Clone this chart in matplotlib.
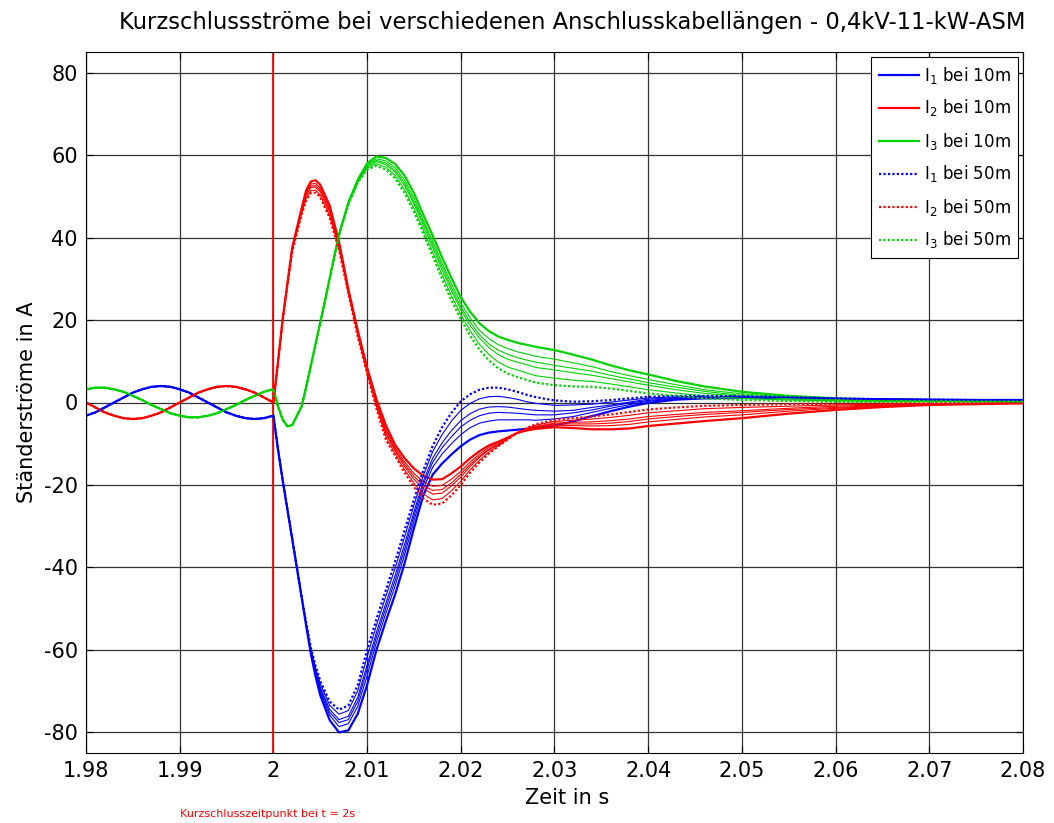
import matplotlib
matplotlib.use("Agg")
import matplotlib.pyplot as plt

# ---------------- data ----------------
t_pre = [1.980, 1.981, 1.982, 1.983, 1.984, 1.985, 1.986, 1.987, 1.988, 1.989, 1.990,
         1.991, 1.992, 1.993, 1.994, 1.995, 1.996, 1.997, 1.998, 1.999, 2.000]
I1_pre = [-3.2, -2.4, -1.2, 0.0, 1.2, 2.4, 3.2, 3.8, 4.0, 3.8, 3.2,
          2.4, 1.2, 0.0, -1.2, -2.4, -3.2, -3.8, -4.0, -3.8, -3.2]
I2_pre = [0.0, -1.2, -2.4, -3.2, -3.8, -4.0, -3.8, -3.2, -2.4, -1.2, 0.0,
          1.2, 2.4, 3.2, 3.8, 4.0, 3.8, 3.2, 2.4, 1.2, 0.0]
I3_pre = [3.2, 3.6, 3.6, 3.2, 2.6, 1.6, 0.6, -0.6, -1.6, -2.6, -3.2,
          -3.6, -3.6, -3.2, -2.6, -1.6, -0.6, 0.6, 1.6, 2.6, 3.2]

t_post = [2.000, 2.0005, 2.001, 2.0015, 2.002, 2.003, 2.0035, 2.004, 2.0045, 2.005, 2.006,
          2.007, 2.008, 2.009, 2.010, 2.011, 2.012, 2.013, 2.014, 2.015, 2.016, 2.017,
          2.018, 2.019, 2.020, 2.021, 2.022, 2.023, 2.024, 2.025, 2.026, 2.027, 2.028,
          2.030, 2.032, 2.034, 2.036, 2.038, 2.040, 2.043, 2.046, 2.050, 2.055, 2.060,
          2.065, 2.070, 2.075, 2.080]

# cable lengths: 10 m (thick), four intermediate lengths (thin), 50 m (dotted)
I1_10m = [-3.2, -11.5, -19.0, -26.0, -33.0, -47.0, -54.2, -61.0, -66.4, -71.0, -77.0,
          -80.0, -79.5, -75.5, -68.5, -60.0, -53.0, -46.5, -39.0, -30.5, -22.5, -17.5,
          -14.8, -12.6, -10.6, -9.0, -7.9, -7.3, -7.0, -6.8, -6.6, -6.4, -6.2,
          -5.6, -4.6, -3.3, -2.1, -1.0, -0.1, 0.7, 1.0, 1.1, 1.0, 0.9,
          0.8, 0.7, 0.6, 0.6]
I1_mid1 = [-3.2, -11.5, -19.0, -26.0, -33.0, -47.0, -54.0, -60.6, -65.9, -70.1, -75.8,
           -78.6, -77.9, -73.7, -66.3, -58.1, -51.1, -44.4, -36.9, -28.7, -20.9, -15.7,
           -12.5, -10.0, -7.8, -6.1, -5.0, -4.5, -4.2, -4.2, -4.2, -4.2, -4.3,
           -4.0, -3.4, -2.4, -1.4, -0.5, 0.3, 0.9, 1.2, 1.2, 1.1, 0.9,
           0.8, 0.7, 0.6, 0.6]
I1_mid2 = [-3.2, -11.5, -19.0, -26.0, -33.0, -47.0, -53.9, -60.4, -65.4, -69.5, -75.1,
           -77.6, -76.9, -72.5, -64.8, -56.8, -49.8, -43.1, -35.6, -27.5, -19.9, -14.5,
           -11.0, -8.3, -5.9, -4.3, -3.2, -2.6, -2.4, -2.5, -2.6, -2.8, -3.0,
           -3.0, -2.5, -1.8, -0.9, -0.1, 0.5, 1.1, 1.3, 1.3, 1.1, 0.9,
           0.8, 0.7, 0.6, 0.6]
I1_mid3 = [-3.2, -11.5, -19.0, -26.0, -33.0, -47.0, -53.8, -60.1, -65.0, -69.0, -74.4,
           -76.9, -76.1, -71.5, -63.7, -55.7, -48.7, -41.9, -34.4, -26.5, -19.1, -13.5,
           -9.8, -6.8, -4.4, -2.7, -1.6, -1.1, -1.0, -1.1, -1.4, -1.7, -1.9,
           -2.1, -1.9, -1.2, -0.6, 0.1, 0.8, 1.2, 1.3, 1.3, 1.2, 1.0,
           0.8, 0.7, 0.6, 0.6]
I1_mid4 = [-3.2, -11.5, -19.0, -26.0, -33.0, -47.0, -53.6, -59.8, -64.4, -68.2, -73.4,
           -75.6, -74.7, -69.9, -61.7, -54.0, -47.0, -40.1, -32.6, -24.9, -17.7, -11.9,
           -7.8, -4.5, -1.9, -0.2, 0.9, 1.4, 1.5, 1.2, 0.8, 0.2, -0.2,
           -0.7, -0.6, -0.4, 0.1, 0.6, 1.1, 1.4, 1.5, 1.4, 1.2, 1.0,
           0.8, 0.7, 0.6, 0.6]
I1_50m = [-3.2, -11.5, -19.0, -26.0, -33.0, -47.0, -53.4, -59.5, -63.9, -67.5, -72.5,
          -74.5, -73.5, -68.5, -60.0, -52.5, -45.5, -38.5, -31.0, -23.5, -16.5, -10.5,
          -6.0, -2.5, 0.3, 2.0, 3.1, 3.6, 3.6, 3.2, 2.6, 1.9, 1.3,
          0.5, 0.2, 0.3, 0.6, 1.0, 1.4, 1.6, 1.6, 1.5, 1.3, 1.0,
          0.8, 0.7, 0.6, 0.6]

I2_10m = [0.0, 10.0, 20.5, 29.0, 37.5, 47.0, 51.5, 53.6, 53.9, 52.8, 47.8,
          39.0, 27.5, 17.5, 8.5, 0.8, -5.5, -10.3, -13.5, -16.0, -17.8, -18.7,
          -18.6, -17.2, -15.5, -13.5, -11.8, -10.4, -9.5, -8.5, -7.4, -6.8, -6.4,
          -6.0, -6.2, -6.5, -6.5, -6.3, -5.7, -5.1, -4.5, -3.8, -2.7, -1.8,
          -1.1, -0.6, -0.4, -0.2]
I2_mid1 = [0.0, 10.0, 20.4, 28.9, 37.2, 46.6, 50.9, 53.0, 53.1, 52.0, 47.0,
           38.5, 27.2, 17.1, 8.1, 0.2, -6.4, -11.0, -14.4, -17.2, -19.2, -20.3,
           -20.1, -18.6, -16.7, -14.4, -12.5, -10.9, -9.8, -8.6, -7.4, -6.6, -6.1,
           -5.5, -5.6, -5.7, -5.6, -5.3, -4.7, -4.1, -3.5, -3.0, -2.1, -1.4,
           -0.9, -0.5, -0.3, -0.2]
I2_mid2 = [0.0, 10.0, 20.3, 28.8, 37.1, 46.4, 50.4, 52.5, 52.6, 51.5, 46.5,
           38.1, 27.1, 16.9, 7.9, -0.2, -7.0, -11.5, -15.0, -17.9, -20.2, -21.3,
           -21.1, -19.5, -17.4, -15.0, -13.0, -11.3, -10.1, -8.7, -7.4, -6.5, -5.9,
           -5.2, -5.2, -5.2, -5.0, -4.6, -4.0, -3.4, -2.9, -2.4, -1.7, -1.2,
           -0.7, -0.4, -0.3, -0.2]
I2_mid3 = [0.0, 10.0, 20.2, 28.7, 36.9, 46.1, 50.1, 52.2, 52.2, 51.1, 46.1,
           37.9, 26.9, 16.6, 7.6, -0.5, -7.5, -11.8, -15.5, -18.6, -20.9, -22.2,
           -22.0, -20.2, -18.1, -15.5, -13.3, -11.5, -10.2, -8.8, -7.4, -6.5, -5.8,
           -5.0, -4.8, -4.7, -4.4, -4.0, -3.4, -2.9, -2.4, -2.0, -1.4, -0.9,
           -0.6, -0.4, -0.2, -0.1]
I2_mid4 = [0.0, 10.0, 20.1, 28.6, 36.7, 45.8, 49.5, 51.4, 51.5, 50.3, 45.3,
           37.4, 26.7, 16.3, 7.3, -1.0, -8.3, -12.5, -16.3, -19.6, -22.2, -23.6,
           -23.3, -21.4, -19.1, -16.3, -14.0, -12.0, -10.5, -8.9, -7.4, -6.3, -5.5,
           -4.6, -4.3, -4.0, -3.6, -3.1, -2.5, -2.0, -1.5, -1.2, -0.9, -0.6,
           -0.4, -0.3, -0.2, -0.1]
I2_50m = [0.0, 10.0, 20.0, 28.5, 36.5, 45.5, 49.0, 50.8, 50.9, 49.8, 44.8,
          37.0, 26.5, 16.0, 7.0, -1.5, -9.0, -13.0, -17.0, -20.5, -23.3, -24.8,
          -24.5, -22.5, -20.0, -17.0, -14.5, -12.4, -10.6, -9.0, -7.4, -6.2, -5.3,
          -4.2, -3.8, -3.4, -2.9, -2.3, -1.7, -1.2, -0.8, -0.6, -0.4, -0.3,
          -0.2, -0.2, -0.1, -0.1]

I3_10m = [3.2, -1.0, -4.2, -5.8, -5.5, -1.0, 3.8, 9.0, 14.2, 19.3, 30.0,
          40.8, 48.5, 54.0, 58.0, 59.7, 59.3, 57.8, 55.0, 50.8, 45.5, 40.5,
          35.2, 30.2, 25.5, 22.0, 19.2, 17.3, 16.0, 15.2, 14.5, 14.0, 13.5,
          12.7, 11.6, 10.4, 9.0, 7.8, 6.8, 5.2, 3.9, 2.6, 1.6, 1.0,
          0.7, 0.6, 0.5, 0.4]
I3_mid1 = [3.2, -1.0, -4.2, -5.8, -5.5, -1.0, 3.8, 9.0, 14.2, 19.3, 30.0,
           40.7, 48.4, 53.8, 57.6, 59.1, 58.6, 56.9, 53.9, 49.6, 44.3, 39.2,
           33.8, 28.8, 24.1, 20.5, 17.5, 15.5, 14.0, 13.1, 12.3, 11.8, 11.2,
           10.5, 9.6, 8.7, 7.5, 6.5, 5.6, 4.3, 3.1, 2.1, 1.3, 0.8,
           0.6, 0.5, 0.4, 0.4]
I3_mid2 = [3.2, -1.0, -4.2, -5.8, -5.5, -1.0, 3.8, 9.0, 14.2, 19.3, 30.0,
           40.7, 48.3, 53.7, 57.4, 58.7, 58.1, 56.3, 53.2, 48.8, 43.6, 38.4,
           33.0, 27.9, 23.2, 19.5, 16.4, 14.2, 12.7, 11.7, 10.9, 10.3, 9.8,
           9.0, 8.3, 7.6, 6.6, 5.7, 4.8, 3.7, 2.7, 1.7, 1.1, 0.7,
           0.5, 0.4, 0.4, 0.3]
I3_mid3 = [3.2, -1.0, -4.2, -5.8, -5.5, -1.0, 3.8, 9.0, 14.2, 19.3, 30.0,
           40.6, 48.2, 53.6, 57.1, 58.4, 57.7, 55.8, 52.6, 48.2, 42.9, 37.6,
           32.2, 27.1, 22.5, 18.7, 15.6, 13.3, 11.6, 10.5, 9.8, 9.2, 8.5,
           7.9, 7.2, 6.6, 5.8, 5.0, 4.2, 3.1, 2.2, 1.5, 0.9, 0.5,
           0.4, 0.4, 0.3, 0.3]
I3_mid4 = [3.2, -1.0, -4.2, -5.8, -5.5, -1.0, 3.8, 9.0, 14.2, 19.3, 30.0,
           40.6, 48.1, 53.4, 56.8, 57.9, 57.1, 55.0, 51.6, 47.1, 41.9, 36.5,
           31.0, 25.9, 21.3, 17.4, 14.1, 11.6, 9.8, 8.6, 7.9, 7.2, 6.5,
           5.9, 5.4, 5.1, 4.5, 3.8, 3.1, 2.3, 1.6, 1.0, 0.6, 0.4,
           0.3, 0.3, 0.3, 0.2]
I3_50m = [3.2, -1.0, -4.2, -5.8, -5.5, -1.0, 3.8, 9.0, 14.2, 19.3, 30.0,
          40.5, 48.0, 53.3, 56.5, 57.4, 56.5, 54.3, 50.8, 46.2, 41.0, 35.5,
          30.0, 24.8, 20.2, 16.2, 12.8, 10.2, 8.3, 7.0, 6.2, 5.5, 4.8,
          4.2, 3.9, 3.8, 3.4, 2.8, 2.2, 1.6, 1.0, 0.6, 0.4, 0.2,
          0.2, 0.2, 0.2, 0.2]

x_ticks = [1.98, 1.99, 2.00, 2.01, 2.02, 2.03, 2.04, 2.05, 2.06, 2.07, 2.08]
x_ticklabels = ["1.98", "1.99", "2", "2.01", "2.02", "2.03", "2.04", "2.05", "2.06", "2.07", "2.08"]
y_ticks = [-80, -60, -40, -20, 0, 20, 40, 60, 80]

# ---------------- drawing ----------------
plt.rcParams["font.family"] = ["DejaVu Sans"]
plt.rcParams["mathtext.default"] = "regular"
plt.rcParams["axes.unicode_minus"] = False

BLUE, RED, GREEN = "#0000FF", "#FF0000", "#00D200"

fig = plt.figure(figsize=(10.54, 8.23), dpi=100)
ax = fig.add_axes([86 / 1054, 70 / 823, 937 / 1054, 701 / 823])

t_full = t_pre[:-1] + t_post

series = [
    ("10m", I1_10m, I2_10m, I3_10m, dict(lw=1.6, ls="-"), True),
    ("mid1", I1_mid1, I2_mid1, I3_mid1, dict(lw=0.8, ls="-"), False),
    ("mid2", I1_mid2, I2_mid2, I3_mid2, dict(lw=0.8, ls="-"), False),
    ("mid3", I1_mid3, I2_mid3, I3_mid3, dict(lw=0.8, ls="-"), False),
    ("mid4", I1_mid4, I2_mid4, I3_mid4, dict(lw=0.8, ls="-"), False),
    ("50m", I1_50m, I2_50m, I3_50m, dict(lw=1.6, ls=(0, (1.0, 1.0))), True),
]

for name, a, b, c, style, labelled in series:
    for k, (pre, post, col) in enumerate(((I1_pre, a, BLUE), (I2_pre, b, RED), (I3_pre, c, GREEN))):
        lab = (r"$I_{%d}$ bei %s" % (k + 1, name)) if labelled else None
        ax.plot(t_full, pre[:-1] + post, color=col, label=lab, **style)

ax.axvline(2.0, color=RED, lw=1.3, zorder=1.5)

ax.set_xlim(1.98, 2.08)
ax.set_ylim(-85, 85)
ax.set_xticks(x_ticks)
ax.set_xticklabels(x_ticklabels)
ax.set_yticks(y_ticks)
ax.tick_params(axis="both", which="both", direction="in", top=True, right=True,
               length=5, width=0.8, labelsize=15, pad=6, colors="black")
ax.grid(True, color="#333333", lw=0.9, ls="-")
ax.set_axisbelow(True)
for sp in ax.spines.values():
    sp.set_color("black")
    sp.set_linewidth(0.8)

ax.set_xlabel("Zeit in s", fontsize=15)
ax.xaxis.set_label_coords(0.514, -0.05)
ax.set_ylabel("Ständerströme in A", fontsize=15, va="center")
ax.yaxis.set_label_coords(-0.063, 0.5)

fig.text(572 / 1054, 1 - 22 / 823,
         "Kurzschlussströme bei verschiedenen Anschlusskabellängen - 0,4kV-11-kW-ASM",
         ha="center", va="center", fontsize=16.3)

fig.text(268 / 1054, 1 - 814 / 823, "Kurzschlusszeitpunkt bei t = 2s",
         ha="center", va="center", fontsize=8, color=RED)

leg = ax.legend(loc="upper right", fontsize=12, frameon=True, fancybox=False,
                framealpha=1, edgecolor="black", handlelength=2.4, handletextpad=0.3,
                labelspacing=0.72, borderpad=0.45, borderaxespad=0.3)
leg.get_frame().set_linewidth(0.8)

fig.savefig("out.png", dpi=100)
